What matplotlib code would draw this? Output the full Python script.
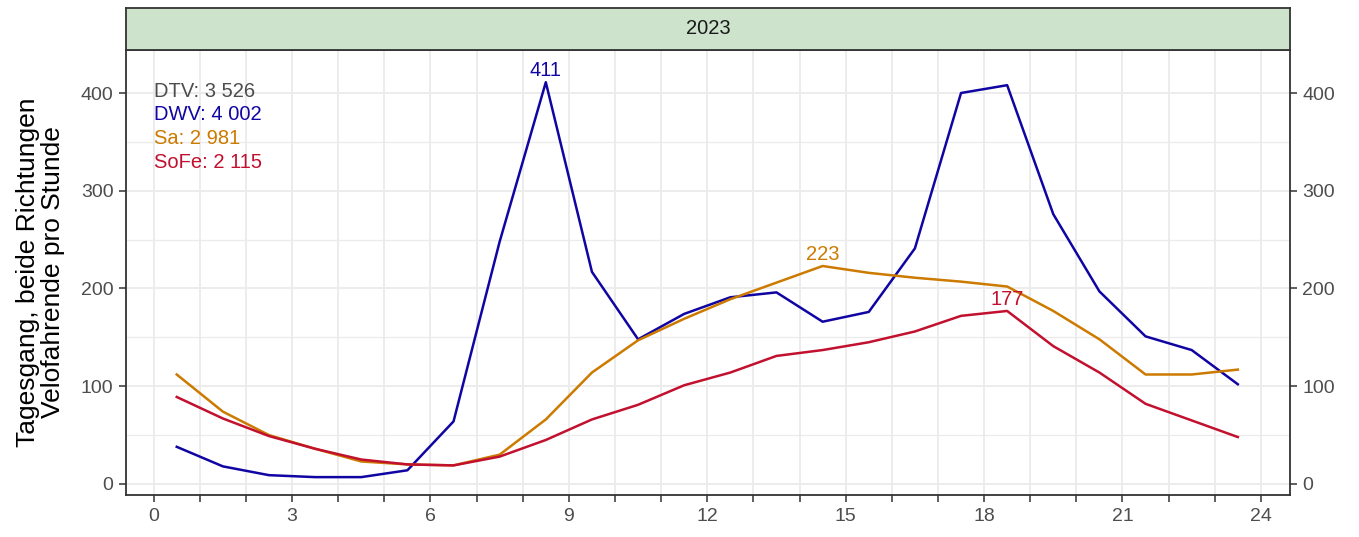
import matplotlib
matplotlib.use("Agg")
import matplotlib.pyplot as plt

# ---------- Data ----------
hours = [0.5, 1.5, 2.5, 3.5, 4.5, 5.5, 6.5, 7.5, 8.5, 9.5, 10.5, 11.5,
         12.5, 13.5, 14.5, 15.5, 16.5, 17.5, 18.5, 19.5, 20.5, 21.5, 22.5, 23.5]
dwv = [38, 18, 9, 7, 7, 14, 64, 248, 411, 217, 148, 174,
       191, 196, 166, 176, 241, 400, 408, 276, 197, 151, 137, 102]
sa = [112, 74, 50, 36, 23, 20, 19, 30, 66, 114, 147, 169,
      189, 206, 223, 216, 211, 207, 202, 177, 148, 112, 112, 117]
sofe = [89, 67, 49, 36, 25, 20, 19, 28, 45, 66, 81, 101,
        114, 131, 137, 145, 156, 172, 177, 141, 114, 82, 65, 48]

summary_labels = ["DTV: 3 526", "DWV: 4 002", "Sa: 2 981", "SoFe: 2 115"]
panel_title = "2023"
y_label = "Tagesgang, beide Richtungen\nVelofahrende pro Stunde"

C_DTV = "#4D4D4D"
C_DWV = "#1005A3"
C_SA = "#CC7A00"
C_SOFE = "#C2102F"
GRID = "#EBEBEB"
DARK = "#333333"

plt.rcParams["font.family"] = ["Liberation Sans", "DejaVu Sans"]

fig = plt.figure(figsize=(13.59, 5.37), dpi=100)
ax = fig.add_axes([0.0927, 0.0782, 0.9492 - 0.0927, 0.9069 - 0.0782])
strip = fig.add_axes([0.0927, 0.9069, 0.9492 - 0.0927, 0.0782])

# ---------- Lines ----------
ax.plot(hours, dwv, color=C_DWV, lw=1.8, zorder=3)
ax.plot(hours, sa, color=C_SA, lw=1.8, zorder=3)
ax.plot(hours, sofe, color=C_SOFE, lw=1.8, zorder=3)

# peak labels
for series, col in [(dwv, C_DWV), (sa, C_SA), (sofe, C_SOFE)]:
    i = series.index(max(series))
    ax.text(hours[i], series[i] + 2, str(series[i]), color=col, fontsize=14.5,
            ha="center", va="bottom", zorder=4)

# summary text block top-left
for k, (txt, col) in enumerate(zip(summary_labels, [C_DTV, C_DWV, C_SA, C_SOFE])):
    ax.text(0.0, 402 - k * 24.5, txt, color=col, fontsize=14.5,
            ha="left", va="center", zorder=4)

# ---------- Axes ----------
ax.set_xlim(-0.6, 24.63)
ax.set_ylim(-11.3, 444)
ax.set_xticks(range(0, 25))
ax.set_xticklabels([str(h) if h % 3 == 0 else "" for h in range(0, 25)])
ax.set_yticks([0, 100, 200, 300, 400])
ax.set_yticks([50, 150, 250, 350], minor=True)

ax.set_facecolor("white")
ax.grid(True, which="major", color=GRID, lw=1.3, zorder=0)
ax.grid(True, which="minor", axis="y", color=GRID, lw=0.9, zorder=0)
ax.set_axisbelow(True)

ax.tick_params(axis="both", which="major", length=5, width=1.1, color=DARK,
               labelcolor=C_DTV, labelsize=14, pad=4)
ax.tick_params(axis="y", which="major", right=True, labelright=True)
ax.tick_params(axis="both", which="minor", length=0)
for s in ax.spines.values():
    s.set_color(DARK)
    s.set_linewidth(1.3)

ax.set_ylabel(y_label, fontsize=19, color="black", linespacing=1.1, labelpad=11)

# ---------- Facet strip ----------
strip.set_facecolor("#CEE3CC")
strip.set_xticks([])
strip.set_yticks([])
for s in strip.spines.values():
    s.set_color(DARK)
    s.set_linewidth(1.3)
strip.text(0.5, 0.5, panel_title, ha="center", va="center", fontsize=14.5,
           color="#1A1A1A", transform=strip.transAxes)

fig.savefig("out.png", dpi=100)
